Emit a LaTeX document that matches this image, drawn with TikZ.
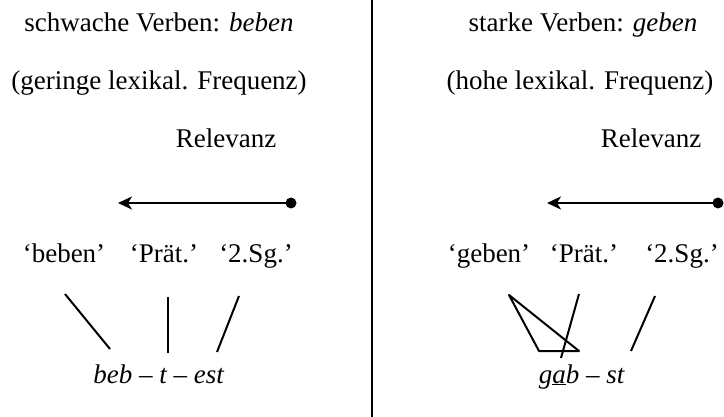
\documentclass[tikz,border=0pt]{standalone}
\usepackage{fontspec}
\setmainfont{Liberation Serif}
\usetikzlibrary{arrows.meta}
\begin{document}
\begin{tikzpicture}[x=1pt,y=-1pt,
  lbl/.style={anchor=base,inner sep=0pt,font=\fontsize{27}{30}\selectfont},
  link/.style={line width=2pt},
  relarrow/.style={line width=2.2pt,-{Stealth[length=14pt,width=13pt,inset=4pt]}},
  dotnode/.style={circle,fill=black,inner sep=0pt,minimum size=11pt}]
\useasboundingbox (0,0) rectangle (724,417);
% divider
\coordinate (divtop) at (372,0);
\coordinate (divbot) at (372,417);
\draw[line width=2.2pt] (divtop) -- (divbot);
% left side
\node[lbl] (ltitle) at (159,32) {schwache Verben: \textit{beben}};
\node[lbl] (lfreq) at (159,90) {(geringe lexikal. Frequenz)};
\node[lbl] (lrel) at (226,148) {Relevanz};
\node[dotnode] (ldot) at (291,203) {};
\coordinate (ltip) at (118,203);
\draw[relarrow] (ldot.center) -- (ltip);
\node[lbl] (lw1) at (64,263) {‘beben’};
\node[lbl] (lw2) at (164,263) {‘Prät.’};
\node[lbl] (lw3) at (256,263) {‘2.Sg.’};
\node[lbl] (lform) at (159,383) {\textit{beb – t – est}};
\coordinate (l1a) at (65,294);
\coordinate (l1b) at (110,349);
\coordinate (l2a) at (168,297);
\coordinate (l2b) at (168,353);
\coordinate (l3a) at (239,296);
\coordinate (l3b) at (217,352);
\draw[link] (l1a) -- (l1b);
\draw[link] (l2a) -- (l2b);
\draw[link] (l3a) -- (l3b);
% right side
\node[lbl] (rtitle) at (583,32) {starke Verben: \textit{geben}};
\node[lbl] (rfreq) at (580,90) {(hohe lexikal. Frequenz)};
\node[lbl] (rrel) at (651,148) {Relevanz};
\node[dotnode] (rdot) at (718,203) {};
\coordinate (rtip) at (547,203);
\draw[relarrow] (rdot.center) -- (rtip);
\node[lbl] (rw1) at (489,263) {‘geben’};
\node[lbl] (rw2) at (584,263) {‘Prät.’};
\node[lbl] (rw3) at (682,263) {‘2.Sg.’};
\node[lbl] (rform) at (582,383) {\textit{g\underline{a}b – st}};
\coordinate (t1) at (509,295);
\coordinate (t2) at (539,351);
\coordinate (t3) at (579,351);
\draw[link,line join=round] (t1) -- (t2) -- (t3) -- cycle;
\coordinate (r2a) at (579,294);
\coordinate (r2b) at (561,358);
\coordinate (r3a) at (655,296);
\coordinate (r3b) at (631,351);
\draw[link] (r2a) -- (r2b);
\draw[link] (r3a) -- (r3b);
\end{tikzpicture}
\end{document}
